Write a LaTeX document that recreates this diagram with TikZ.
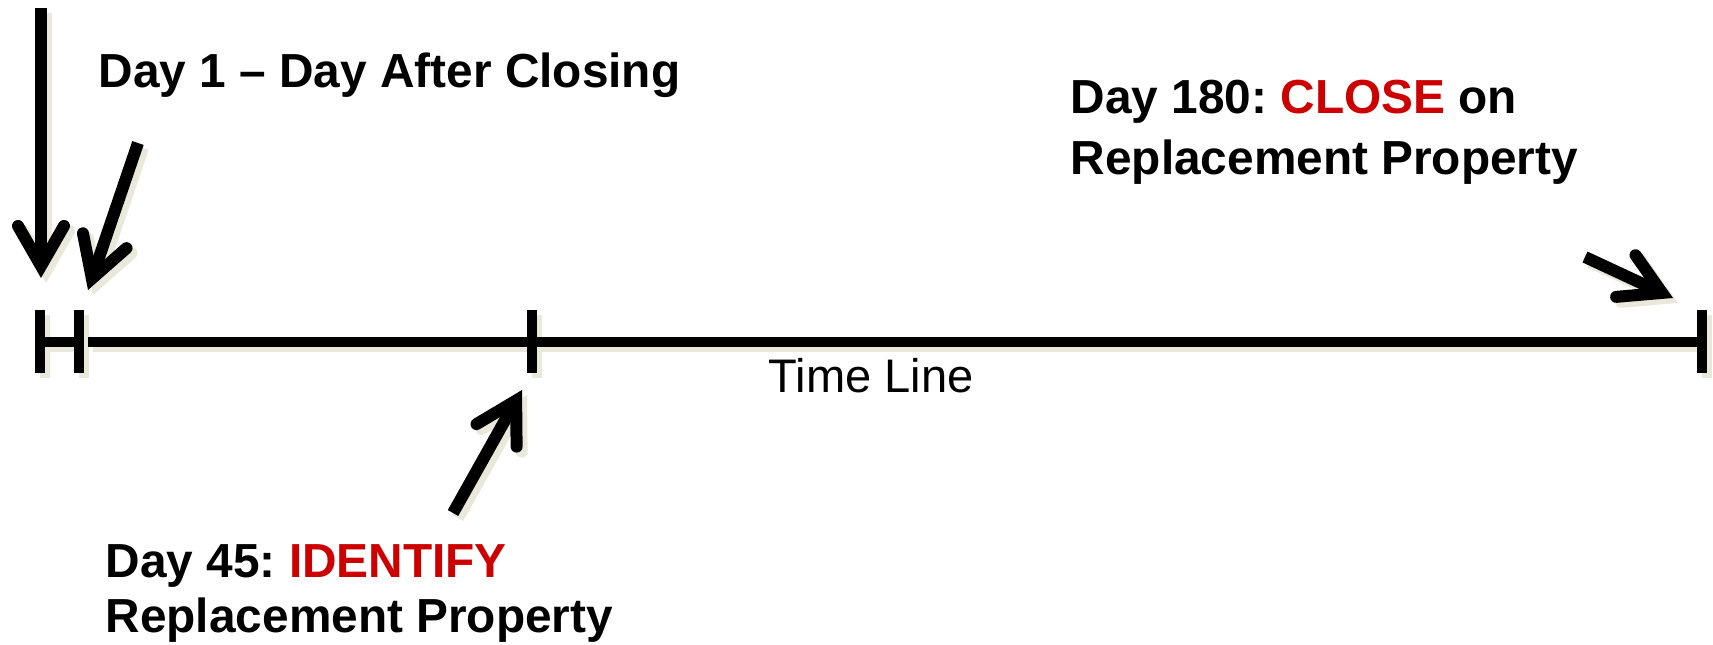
\documentclass[tikz,border=0pt]{standalone}
\usepackage{fontspec}
\setmainfont{Liberation Sans}
\usetikzlibrary{arrows.meta}
\definecolor{markred}{RGB}{204,0,0}
\definecolor{shadowcream}{RGB}{234,231,219}
\frenchspacing

\begin{document}
\begin{tikzpicture}[
    bar/.style={line width=0.1cm},
    pointer/.style={line width=0.12cm, -{Straight Barb[length=0.4cm, width=0.46cm, line cap=round, line join=miter]}},
    label/.style={font=\fontsize{13.6}{17.6}\selectfont\bfseries, anchor=base west, inner sep=0pt, align=left}
]
\useasboundingbox (0,0) rectangle (17.13,6.44);

% ticks on the time line
\foreach \i/\x in {1/0.40, 2/0.79, 3/5.32, 4/17.02} {
    \coordinate (top\i) at (\x, 3.34);
    \coordinate (bot\i) at (\x, 2.71);
    \coordinate (mid\i) at (\x, 3.02);
}
\coordinate (gap) at (0.88, 3.02);

% arrow ends
\coordinate (from1) at (0.41, 6.36);  \coordinate (to1) at (0.41, 3.66);
\coordinate (from2) at (1.38, 5.01);  \coordinate (to2) at (0.88, 3.54);
\coordinate (from3) at (4.53, 1.31);  \coordinate (to3) at (5.22, 2.54);
\coordinate (from4) at (15.85, 3.87); \coordinate (to4) at (16.73, 3.46);

% shadow first, then the black lines
\foreach \dx/\col in {0.05/shadowcream, 0/black} {
    \begin{scope}[transform canvas={shift={(\dx,-\dx)}}, \col]
        \foreach \i in {1,...,4}
            \draw[bar] (top\i) -- (bot\i);
        \draw[bar] (mid1) -- (mid2);
        \draw[bar] (gap) -- (mid4);
        \foreach \i in {1,...,4}
            \draw[pointer] (from\i) -- (to\i);
    \end{scope}
}

% multi-line labels sit on the baseline of their last line
\node[label] (day1) at (0.98, 5.56) {Day 1 -- Day After Closing};
\node[label] (day180) at (10.70, 4.69) {Day 180: \textcolor{markred}{CLOSE} on\\Replacement Property};
\node[label, font=\fontsize{13.6}{15.6}\selectfont\bfseries] (day45) at (1.05, 0.12) {Day 45: \textcolor{markred}{IDENTIFY}\\Replacement Property};
\node[label, font=\fontsize{13.4}{15.6}\selectfont] (timeline) at (7.68, 2.51) {Time Line};

\end{tikzpicture}
\end{document}
